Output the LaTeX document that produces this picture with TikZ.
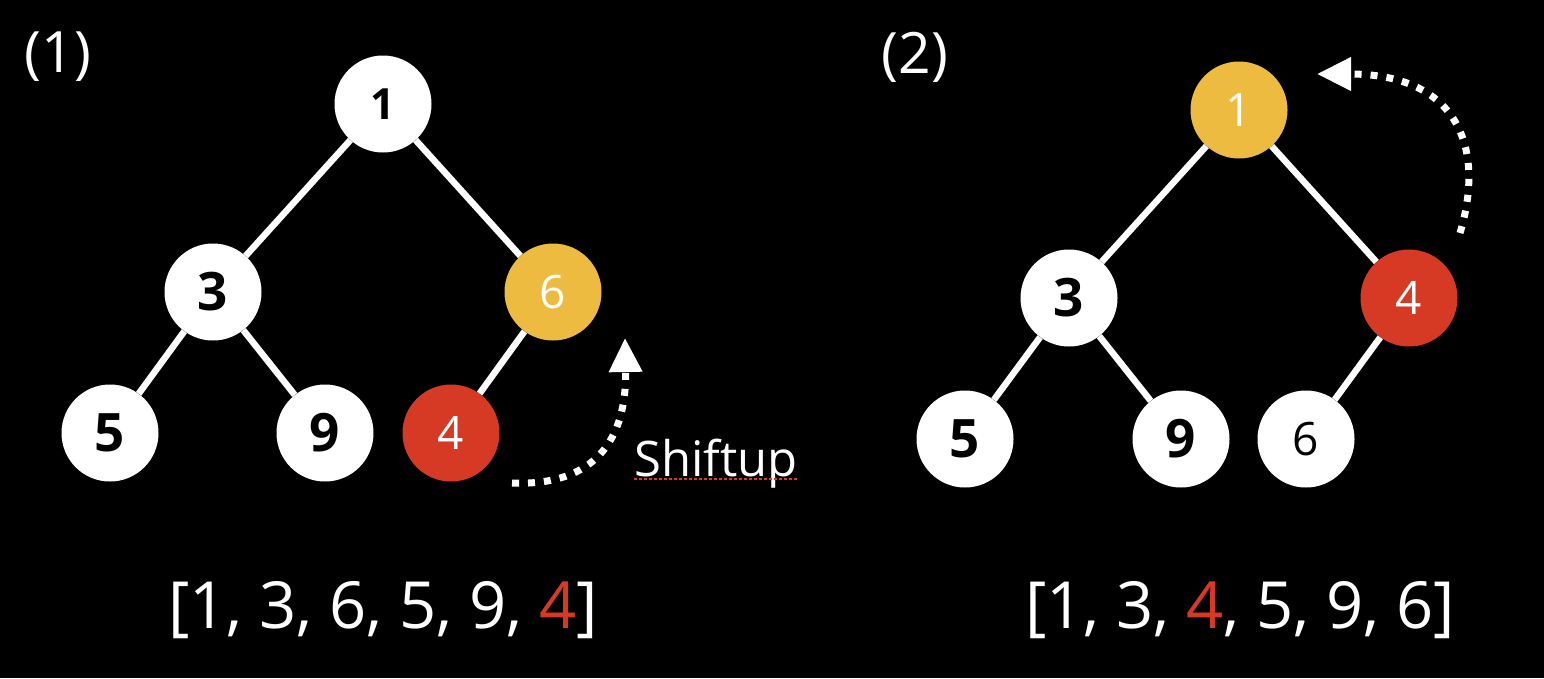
\documentclass[tikz,border=0pt]{standalone}
\usepackage{fontspec}
\setmainfont{Open Sans}
\usetikzlibrary{arrows.meta}
\definecolor{hyellow}{HTML}{EDBB40}
\definecolor{hred}{HTML}{D63A25}
\tikzset{
  tnode/.style={circle, fill=white, minimum size=97pt, inner sep=0pt, font=\fontsize{53}{53}\selectfont\bfseries, text=black},
  smallbold/.style={font=\fontsize{43}{43}\selectfont\bfseries},
  plain/.style={font=\fontsize{46}{46}\selectfont},
  ynode/.style={tnode, fill=hyellow, text=white, plain},
  rnode/.style={tnode, fill=hred, text=white, plain},
  edge/.style={white, line width=6.5pt},
  dotarrow/.style={white, line width=7pt, dash pattern=on 7pt off 9pt, -{Triangle[width=32pt,length=34pt]}},
  lbl/.style={text=white, font=\fontsize{57}{57}\selectfont, inner sep=0pt},
  arr/.style={text=white, font=\fontsize{65}{65}\selectfont, inner sep=0pt},
}
\begin{document}
\begin{tikzpicture}[x=1pt,y=-1pt]
\fill[black] (0,0) rectangle (1544,678);
\useasboundingbox (0,0) rectangle (1544,678);
% left tree
\node[tnode, smallbold] (a1) at (383,104) {1};
\node[tnode] (a3) at (213,292) {3};
\node[ynode] (a6) at (553,292) {6};
\node[tnode] (a5) at (110,433) {5};
\node[tnode] (a9) at (325,433) {9};
\node[rnode] (a4) at (451,433) {4};
\draw[edge] (a1) -- (a3);
\draw[edge] (a1) -- (a6);
\draw[edge] (a3) -- (a5);
\draw[edge] (a3) -- (a9);
\draw[edge] (a6) -- (a4);
% right tree
\node[ynode] (b1) at (1239,110) {1};
\node[tnode] (b3) at (1069,298) {3};
\node[rnode] (b4) at (1409,298) {4};
\node[tnode] (b5) at (965,439) {5};
\node[tnode] (b9) at (1181,439) {9};
\node[tnode, plain] (b6) at (1306,439) {6};
\draw[edge] (b1) -- (b3);
\draw[edge] (b1) -- (b4);
\draw[edge] (b3) -- (b5);
\draw[edge] (b3) -- (b9);
\draw[edge] (b4) -- (b6);
% labels
\node[lbl] (l1) at (58,57) {(1)};
\node[lbl] (l2) at (915,57) {(2)};
\node[arr] (arrA) at (383,610) {[1, 3, 6, 5, 9, \textcolor{hred}{4}]};
\node[arr] (arrB) at (1240,610) {[1, 3, \textcolor{hred}{4}, 5, 9, 6]};
\node[text=white, font=\fontsize{49}{49}\selectfont, inner sep=0pt, anchor=base west] (shift) at (634,476) {Shiftup};
\draw[hred, line width=2.5pt, dash pattern=on 3pt off 2pt] ([yshift=-3pt]shift.base west) -- ([yshift=-3pt]shift.base east);
% arrows
\coordinate (sA) at (512,483);
\coordinate (eA) at (625,338);
\draw[dotarrow] (sA) .. controls (585,486) and (627,450) .. (eA);
\coordinate (sB) at (1460,233);
\coordinate (eB) at (1317,74);
\draw[dotarrow] (sB) .. controls (1485,150) and (1460,74) .. (eB);
\end{tikzpicture}
\end{document}
